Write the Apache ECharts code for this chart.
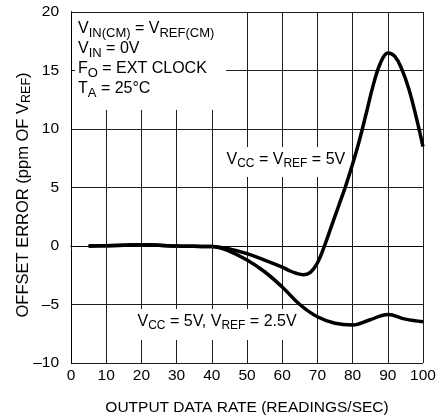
<!DOCTYPE html>
<html>
<head>
<meta charset="utf-8">
<script src="https://cdn.jsdelivr.net/npm/echarts@6/dist/echarts.min.js"></script>
<style>
html,body{margin:0;padding:0;background:#fff;}
#chart{width:438px;height:419px;}
</style>
</head>
<body>
<div id="chart"></div>
<script>
// ---- data ----
const xTickLabels = ['0','10','20','30','40','50','60','70','80','90','100'];
const yTickLabels = ['\u201310','\u20135','0','5','10','15','20'];

// VCC = VREF = 5V
const rate5V = [5, 10, 15, 20, 25, 30, 35, 40, 45, 50, 55, 60, 62, 64, 66, 68, 70, 72, 74, 76, 78, 80, 82, 84, 86, 88, 90, 92, 94, 96, 98, 100];
const err5V  = [0, 0.03, 0.07, 0.1, 0.06, 0, -0.03, -0.05, -0.25, -0.65, -1.2, -1.8, -2.1, -2.33, -2.45, -2.25, -1.45, 0.0, 1.7, 3.4, 5.1, 7.0, 9.1, 11.5, 13.9, 15.7, 16.5, 16.2, 15.1, 13.4, 11.1, 8.5];

// VCC = 5V, VREF = 2.5V
const rate25V = [5, 10, 15, 20, 25, 30, 35, 40, 45, 50, 55, 60, 65, 70, 75, 80, 85, 90, 95, 100];
const err25V  = [0, 0.03, 0.07, 0.1, 0.06, 0, -0.03, -0.05, -0.45, -1.2, -2.2, -3.5, -5.0, -6.05, -6.6, -6.75, -6.3, -5.85, -6.25, -6.47];

// ---- chart ----
const FONT = "'Liberation Sans', Arial, Helvetica, sans-serif";
const GRID_COLOR = '#1e1e1e';
const pairs = (xs, ys) => xs.map((x, i) => [x, ys[i]]);

const mainRich = { fontSize: 16, fontFamily: FONT, color: '#000', lineHeight: 20 };
const subRich = (size) => ({ fontSize: size, fontFamily: FONT, color: '#000', lineHeight: 12, padding: [8, 0, 0, 0] });

const chart = echarts.init(document.getElementById('chart'), null, { renderer: 'canvas' });

const option = {
  animation: false,
  backgroundColor: '#fff',
  grid: { left: 71, right: 15, top: 12, bottom: 56, containLabel: false, outerBoundsMode: 'none' },
  xAxis: [
    {
      type: 'value', min: 0, max: 100, interval: 10, position: 'bottom',
      name: 'OUTPUT DATA RATE (READINGS/SEC)', nameLocation: 'middle', nameGap: 37,
      nameTextStyle: { fontSize: 15.5, fontFamily: FONT, color: '#000' },
      axisLine: { show: true, lineStyle: { color: '#000', width: 1 } },
      axisTick: { show: false },
      axisLabel: { margin: 5, fontSize: 15.5, fontFamily: FONT, color: '#000',
        formatter: (v) => xTickLabels[Math.round(v / 10)] },
      splitLine: { show: true, lineStyle: { color: GRID_COLOR, width: 1 } },
      z: 0
    },
    {
      type: 'value', min: 0, max: 100, interval: 10, position: 'top',
      axisLine: { show: true, lineStyle: { color: '#000', width: 1 } },
      axisTick: { show: true, inside: true, length: 4, lineStyle: { color: GRID_COLOR } },
      axisLabel: { show: false }, splitLine: { show: false },
      z: 5
    }
  ],
  yAxis: [
    {
      type: 'value', min: -10, max: 20, interval: 5, position: 'left',
      name: '{m|OFFSET ERROR (ppm OF V}{s|REF}{m|)}', nameLocation: 'middle', nameGap: 38, nameRotate: 90,
      nameMoveOverlap: false,
      nameTextStyle: {
        padding: [0, 15, 0, 0],
        rich: { m: { fontSize: 16.5, fontFamily: FONT, color: '#000', lineHeight: 20 },
                s: { fontSize: 12.5, fontFamily: FONT, color: '#000', lineHeight: 12, padding: [8, 0, 0, 0] } }
      },
      axisLine: { show: true, lineStyle: { color: '#000', width: 1 } },
      axisTick: { show: false },
      axisLabel: { margin: 12, fontSize: 15.5, fontFamily: FONT, color: '#000',
        formatter: (v) => yTickLabels[Math.round((v + 10) / 5)] },
      splitLine: { show: true, lineStyle: { color: GRID_COLOR, width: 1 } },
      z: 0
    },
    {
      type: 'value', min: -10, max: 20, interval: 5, position: 'right',
      axisLine: { show: true, lineStyle: { color: '#000', width: 1 } },
      axisTick: { show: false }, axisLabel: { show: false }, splitLine: { show: false },
      z: 5
    },
    {
      type: 'value', min: -10, max: 20, interval: 5, position: 'left',
      axisLine: { show: true, lineStyle: { color: '#000', width: 1 } },
      axisTick: { show: true, inside: true, length: 4, lineStyle: { color: GRID_COLOR } },
      axisLabel: { show: false }, splitLine: { show: false },
      z: 5
    }
  ],
  graphic: [
    { type: 'rect', z: 1, shape: { x: 72, y: 13, width: 154, height: 97 }, style: { fill: '#fff' } },
    { type: 'text', z: 2, x: 78, y: 19,
      style: {
        text: '{m|V}{s|IN(CM)}{m| = V}{s|REF(CM)}\n{m|V}{s|IN}{m| = 0V}\n{m|F}{s|O}{m| = EXT CLOCK}\n{m|T}{s|A}{m| = 25\u00B0C}',
        align: 'left', verticalAlign: 'top',
        rich: { m: mainRich, s: subRich(13) }
      } },
    { type: 'rect', z: 1, shape: { x: 221, y: 147, width: 128, height: 30 }, style: { fill: '#fff' } },
    { type: 'text', z: 2, x: 226.5, y: 149.5,
      style: {
        text: '{m|V}{s|CC}{m| = V}{s|REF}{m| = 5V}',
        align: 'left', verticalAlign: 'top',
        rich: { m: mainRich, s: subRich(12) }
      } },
    { type: 'rect', z: 1, shape: { x: 132, y: 309, width: 174, height: 31 }, style: { fill: '#fff' } },
    { type: 'text', z: 2, x: 137.5, y: 312,
      style: {
        text: '{m|V}{s|CC}{m| = 5V, V}{s|REF}{m| = 2.5V}',
        align: 'left', verticalAlign: 'top',
        rich: { m: mainRich, s: subRich(12) }
      } }
  ],
  series: [
    {
      name: 'VCC = VREF = 5V', type: 'line', xAxisIndex: 0, yAxisIndex: 0,
      data: pairs(rate5V, err5V), smooth: 0.4, showSymbol: false, symbol: 'none',
      lineStyle: { color: '#000', width: 3.5 }, z: 3
    },
    {
      name: 'VCC = 5V, VREF = 2.5V', type: 'line', xAxisIndex: 0, yAxisIndex: 0,
      data: pairs(rate25V, err25V), smooth: 0.4, showSymbol: false, symbol: 'none',
      lineStyle: { color: '#000', width: 3.5 }, z: 3
    }
  ]
};
chart.setOption(option);
</script>
</body>
</html>
